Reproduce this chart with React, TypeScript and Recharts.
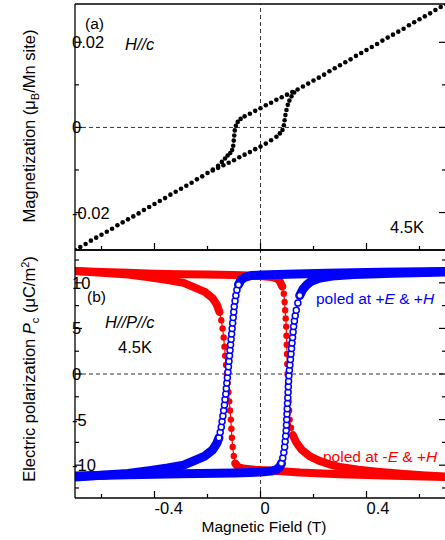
import { ComposedChart, Line, XAxis, YAxis, ReferenceLine } from "recharts";

// ---- axes ----
const fieldTicks = [-0.6, -0.4, -0.2, 0, 0.2, 0.4, 0.6];
const fieldMajor = [-0.4, 0, 0.4];
const magTicks = [-0.02, -0.01, 0, 0.01, 0.02];
const magMajor = [-0.02, 0, 0.02];
const polTicks = [-12.5, -10, -7.5, -5, -2.5, 0, 2.5, 5, 7.5, 10, 12.5];
const polMajor = [-10, -5, 0, 5, 10];

// ---- (a) magnetization, [H (T), M (muB/Mn)] ----
const magOuterLow = [
  [-0.7, -0.0288], [-0.68, -0.0281], [-0.66, -0.0274], [-0.64, -0.0266], [-0.62, -0.0259],
  [-0.6, -0.0252], [-0.58, -0.0245], [-0.56, -0.0238], [-0.54, -0.023], [-0.52, -0.0223],
  [-0.5, -0.0216], [-0.48, -0.0209], [-0.46, -0.0202], [-0.44, -0.0194], [-0.42, -0.0187],
  [-0.4, -0.018], [-0.38, -0.0173], [-0.36, -0.0166], [-0.34, -0.0158], [-0.32, -0.0151],
  [-0.3, -0.0144], [-0.28, -0.0137], [-0.26, -0.013], [-0.24, -0.0122], [-0.22, -0.0115],
  [-0.2, -0.0107],
];
const magOuterHigh = [
  [0.14, 0.0089], [0.16, 0.0096], [0.18, 0.0103], [0.2, 0.011], [0.22, 0.0117],
  [0.24, 0.0124], [0.26, 0.0132], [0.28, 0.0139], [0.3, 0.0146], [0.32, 0.0153],
  [0.34, 0.016], [0.36, 0.0168], [0.38, 0.0175], [0.4, 0.0182], [0.42, 0.0189],
  [0.44, 0.0196], [0.46, 0.0204], [0.48, 0.0211], [0.5, 0.0218], [0.52, 0.0225],
  [0.54, 0.0232], [0.56, 0.024], [0.58, 0.0247], [0.6, 0.0254], [0.62, 0.0261],
  [0.64, 0.0268], [0.66, 0.0276], [0.68, 0.0283], [0.7, 0.029],
];
const magLoopDown = [
  [0.12, 0.0083], [0.1, 0.0077], [0.08, 0.0071], [0.06, 0.0065], [0.04, 0.0058],
  [0.02, 0.0052], [0, 0.0045], [-0.02, 0.0039], [-0.04, 0.0032], [-0.06, 0.0026],
  [-0.075, 0.002], [-0.086, 0.0013], [-0.093, 0.0004], [-0.097, -0.0007], [-0.099, -0.0019],
  [-0.101, -0.0031], [-0.103, -0.0043], [-0.107, -0.0053], [-0.114, -0.006], [-0.124, -0.0066],
  [-0.134, -0.0073], [-0.146, -0.0081], [-0.16, -0.009], [-0.18, -0.0099],
];
const magLoopUp = [
  [-0.18, -0.0101], [-0.16, -0.0095], [-0.14, -0.0089], [-0.12, -0.0083], [-0.1, -0.0077],
  [-0.08, -0.007], [-0.06, -0.0064], [-0.04, -0.0058], [-0.02, -0.0051], [0, -0.0045],
  [0.02, -0.0038], [0.04, -0.003], [0.06, -0.0022], [0.073, -0.0014], [0.083, -0.0006],
  [0.088, 0.0005], [0.091, 0.0017], [0.094, 0.0029], [0.098, 0.0041], [0.103, 0.0053],
  [0.109, 0.0063], [0.117, 0.0073], [0.127, 0.0082],
];

// ---- (b) polarization, [H (T), Pc (uC/m2)] ----
const redSwitchPos = [
  [-0.7, 11.3], [-0.6, 11.2], [-0.5, 11.1], [-0.4, 11.0], [-0.3, 10.95], [-0.2, 10.9],
  [-0.1, 10.85], [0, 10.75], [0.04, 10.65], [0.06, 10.5], [0.072, 10.2], [0.082, 9.6],
  [0.088, 8.8], [0.091, 7.9], [0.093, 7.0], [0.095, 6.1], [0.097, 5.2], [0.098, 4.2],
  [0.099, 3.2], [0.1, 2.2], [0.101, 1.1], [0.102, 0], [0.104, -1.0], [0.105, -2.0],
  [0.106, -3.0], [0.108, -4.0], [0.11, -5.0], [0.115, -5.9], [0.122, -6.7], [0.135, -7.5],
  [0.155, -8.3], [0.185, -9.0], [0.22, -9.5], [0.26, -9.9], [0.3, -10.2], [0.37, -10.5],
  [0.45, -10.75], [0.53, -10.95], [0.61, -11.1], [0.7, -11.25],
];
const redSwitchNeg = [
  [-0.7, 11.3], [-0.6, 11.1], [-0.5, 10.9], [-0.42, 10.6], [-0.35, 10.3], [-0.29, 10.0],
  [-0.25, 9.5], [-0.21, 9.0], [-0.18, 8.3], [-0.165, 7.6], [-0.155, 6.8], [-0.148, 5.9],
  [-0.143, 5.0], [-0.139, 4.0], [-0.136, 3.0], [-0.133, 2.0], [-0.13, 1.0], [-0.127, 0],
  [-0.124, -1.0], [-0.121, -2.0], [-0.118, -3.0], [-0.115, -4.0], [-0.112, -5.0],
  [-0.11, -6.0], [-0.108, -7.0], [-0.105, -8.0], [-0.101, -9.0], [-0.095, -9.8],
  [-0.085, -10.2], [-0.06, -10.4], [-0.02, -10.5], [0.05, -10.6], [0.15, -10.8],
  [0.3, -11.0], [0.5, -11.15], [0.7, -11.3],
];
const blueSwitchNeg = [
  [-0.7, -11.3], [-0.6, -11.1], [-0.5, -10.9], [-0.42, -10.6], [-0.35, -10.3], [-0.29, -10.0],
  [-0.25, -9.5], [-0.21, -9.0], [-0.18, -8.3], [-0.165, -7.6], [-0.157, -7.0], [-0.152, -6.4],
  [-0.148, -5.8], [-0.145, -5.2], [-0.142, -4.6], [-0.139, -4.0], [-0.136, -3.4], [-0.134, -2.8],
  [-0.131, -2.2], [-0.129, -1.6], [-0.127, -1.0], [-0.125, -0.4], [-0.123, 0.2], [-0.121, 0.8],
  [-0.119, 1.4], [-0.117, 2.0], [-0.115, 2.6], [-0.113, 3.2], [-0.111, 3.8], [-0.109, 4.4],
  [-0.107, 5.0], [-0.105, 5.6], [-0.103, 6.2], [-0.101, 6.8], [-0.099, 7.4], [-0.096, 8.0],
  [-0.093, 8.6], [-0.089, 9.2], [-0.083, 9.8], [-0.074, 10.3], [-0.06, 10.6], [-0.035, 10.8],
  [0, 10.85], [0.1, 10.95], [0.25, 11.05], [0.45, 11.15], [0.7, 11.25],
];
const blueSwitchPos = [
  [-0.7, -11.2], [-0.5, -11.05], [-0.3, -10.95], [-0.1, -10.85], [0, -10.75], [0.04, -10.65],
  [0.06, -10.5], [0.072, -10.2], [0.079, -9.8], [0.084, -9.2], [0.088, -8.6], [0.091, -8.0],
  [0.093, -7.4], [0.095, -6.8], [0.097, -6.2], [0.098, -5.6], [0.099, -5.0], [0.1, -4.4],
  [0.101, -3.8], [0.102, -3.2], [0.103, -2.6], [0.104, -2.0], [0.105, -1.4], [0.106, -0.8],
  [0.107, -0.2], [0.109, 0.4], [0.111, 1.0], [0.113, 1.6], [0.115, 2.2], [0.117, 2.8],
  [0.119, 3.4], [0.121, 4.0], [0.123, 4.6], [0.125, 5.2], [0.128, 5.8], [0.131, 6.4],
  [0.135, 7.0], [0.141, 7.8], [0.148, 8.6], [0.16, 9.3], [0.175, 9.8], [0.19, 10.15],
  [0.22, 10.5], [0.27, 10.75], [0.35, 10.9], [0.5, 11.05], [0.7, 11.2],
];

const RED = "#ff0000";
const BLUE = "#0000ff";
const FONT = "'Liberation Sans', Arial, Helvetica, sans-serif";
const PLOT_W = 460;

const toPts = (arr: number[][], key: string) => arr.map(([h, v]) => ({ h, [key]: v }));

// where the sweep is slow the markers pile up into a solid band; on the steep
// switching part they separate, so split each branch into band runs + marker points
const STEEP = 100;
function splitBranch(arr: number[][]) {
  const data = toPts(arr, "p");
  const steep = data.slice(1).map((d: any, i) => {
    const prev: any = data[i];
    return Math.abs((d.p - prev.p) / (d.h - prev.h)) > STEEP;
  });
  const bands: any[][] = [];
  let cur: any[] = [];
  steep.forEach((s, i) => {
    if (!s) {
      if (!cur.length) cur.push(data[i]);
      cur.push(data[i + 1]);
    } else if (cur.length) {
      bands.push(cur);
      cur = [];
    }
  });
  if (cur.length) bands.push(cur);
  const marks = data.filter((_, i) => steep[i - 1] || steep[i]);
  return { data, bands, marks };
}

type Side = "bottom" | "top" | "left" | "right";
function axisTick(side: Side, majors: number[], labels: boolean) {
  return function Tick(props: any) {
    const { x, y, payload } = props;
    const v = payload.value as number;
    const major = majors.includes(v);
    const len = major ? 7 : 4;
    let x2 = x;
    let y2 = y;
    if (side === "bottom") y2 = y - len;
    if (side === "top") y2 = y + len;
    if (side === "left") x2 = x + len;
    if (side === "right") x2 = x - len;
    return (
      <g>
        <line x1={x} y1={y} x2={x2} y2={y2} stroke="#000" strokeWidth={1.2} />
        {labels && major && side === "bottom" && (
          <text x={x} y={y + 16} fontSize={16.5} fontFamily={FONT} fill="#000" textAnchor="start">
            {String(v)}
          </text>
        )}
        {labels && major && side === "left" && (
          <text x={x - 3} y={y + 6} fontSize={16.5} fontFamily={FONT} fill="#000" textAnchor="start">
            {String(v)}
          </text>
        )}
      </g>
    );
  };
}

// axes are 1px thick boxes (a 0 size axis is not drawn); margins make up the rest
function Frame({ yTicks, yMajor, yDomain, xLabels }: any) {
  return [
    <XAxis
      key="xb"
      xAxisId={0}
      dataKey="h"
      type="number"
      domain={[-0.7, 0.7]}
      ticks={fieldTicks}
      interval={0}
      height={1}
      tickSize={0}
      tickMargin={0}
      tickLine={false}
      axisLine={{ stroke: "#000", strokeWidth: 1.3 }}
      tick={axisTick("bottom", fieldMajor, xLabels)}
      allowDataOverflow
    />,
    <XAxis
      key="xt"
      xAxisId="t"
      orientation="top"
      type="number"
      domain={[-0.7, 0.7]}
      ticks={fieldTicks}
      interval={0}
      height={1}
      tickSize={0}
      tickMargin={0}
      tickLine={false}
      axisLine={{ stroke: "#000", strokeWidth: 1.3 }}
      tick={axisTick("top", fieldMajor, false)}
      allowDataOverflow
    />,
    <YAxis
      key="yl"
      yAxisId={0}
      type="number"
      domain={yDomain}
      ticks={yTicks}
      interval={0}
      width={1}
      tickSize={0}
      tickMargin={0}
      tickLine={false}
      axisLine={{ stroke: "#000", strokeWidth: 1.3 }}
      tick={axisTick("left", yMajor, true)}
      allowDataOverflow
    />,
    <YAxis
      key="yr"
      yAxisId="r"
      orientation="right"
      type="number"
      domain={yDomain}
      ticks={yTicks}
      interval={0}
      width={1}
      tickSize={0}
      tickMargin={0}
      tickLine={false}
      axisLine={{ stroke: "#000", strokeWidth: 1.3 }}
      tick={axisTick("right", yMajor, false)}
      allowDataOverflow
    />,
    <ReferenceLine key="rx" x={0} stroke="#333" strokeDasharray="4 3" strokeWidth={1} />,
    <ReferenceLine key="ry" y={0} stroke="#333" strokeDasharray="4 3" strokeWidth={1} />,
  ];
}

function Branch({ arr, color, open, id }: any) {
  const { data, bands, marks } = splitBranch(arr);
  const dot = open
    ? { r: 3, fill: "#fff", stroke: color, strokeWidth: 1.5 }
    : { r: 3.2, fill: color, stroke: "none" };
  return [
    <Line key={id + "-l"} data={data} dataKey="p" type="linear" stroke={color} strokeWidth={1.2}
      dot={false} activeDot={false} isAnimationActive={false} />,
    ...bands.map((b, i) => (
      <Line key={id + "-b" + i} data={b} dataKey="p" type="linear" stroke={color}
        strokeWidth={open ? 9 : 8} strokeLinecap="round" strokeLinejoin="round"
        dot={false} activeDot={false} isAnimationActive={false} />
    )),
    <Line key={id + "-m"} data={marks} dataKey="p" type="linear" stroke="none"
      dot={dot} activeDot={false} isAnimationActive={false} />,
  ];
}

function MagPanel() {
  const sets = [magOuterLow, magLoopUp, magLoopDown, magOuterHigh];
  return (
    <ComposedChart width={PLOT_W} height={260} margin={{ top: 3, right: 13, bottom: 9, left: 74 }}>
      {Frame({ yTicks: magTicks, yMajor: magMajor, yDomain: [-0.0288, 0.029], xLabels: false })}
      {sets.map((s, i) => (
        <Line key={i} data={toPts(s, "m")} dataKey="m" type="linear" stroke="none"
          dot={{ r: 2.3, fill: "#000", stroke: "none" }} activeDot={false} isAnimationActive={false} />
      ))}
    </ComposedChart>
  );
}

function PolPanel() {
  return (
    <ComposedChart width={PLOT_W} height={300} margin={{ top: 9, right: 13, bottom: 41, left: 74 }}>
      {Frame({ yTicks: polTicks, yMajor: polMajor, yDomain: [-13.6, 13.6], xLabels: true })}
      {Branch({ arr: redSwitchNeg, color: RED, open: false, id: "rn" })}
      {Branch({ arr: redSwitchPos, color: RED, open: false, id: "rp" })}
      {Branch({ arr: blueSwitchNeg, color: BLUE, open: true, id: "bn" })}
      {Branch({ arr: blueSwitchPos, color: BLUE, open: true, id: "bp" })}
    </ComposedChart>
  );
}

export default function App() {
  const t = { fontFamily: FONT, fill: "#000" };
  return (
    <div style={{ position: "absolute", left: 0, top: 0, width: 445, height: 540, overflow: "hidden", background: "#fff" }}>
      <div style={{ position: "absolute", left: 0, top: 0 }}>
        <MagPanel />
      </div>
      <div style={{ position: "absolute", left: 0, top: 240 }}>
        <PolPanel />
      </div>
      <svg width={445} height={540} style={{ position: "absolute", left: 0, top: 0, pointerEvents: "none" }}>
        <text {...t} fontSize={16.5} textAnchor="middle" transform="translate(35,126) rotate(-90)">
          Magnetization (μ<tspan fontSize={11} dy={4}>B</tspan>
          <tspan dy={-4}>/Mn site)</tspan>
        </text>
        <text {...t} fontSize={16.5} textAnchor="middle" transform="translate(35,369) rotate(-90)">
          Electric polarization <tspan fontStyle="italic">P</tspan>
          <tspan fontSize={11} dy={4}>c</tspan>
          <tspan dy={-4}> (μC/m</tspan>
          <tspan fontSize={11} dy={-6}>2</tspan>
          <tspan dy={6}>)</tspan>
        </text>
        <text {...t} fontSize={15.5} textAnchor="middle" x={264} y={532}>Magnetic Field (T)</text>

        <text {...t} fontSize={15.5} x={85} y={29}>(a)</text>
        <text {...t} fontSize={16.5} fontStyle="italic" x={125} y={50}>H//c</text>
        <text {...t} fontSize={16.5} x={390} y={233}>4.5K</text>

        <text {...t} fontSize={15.5} x={87} y={302}>(b)</text>
        <text {...t} fontSize={16.5} fontStyle="italic" x={105} y={328}>H//P//c</text>
        <text {...t} fontSize={16.5} x={118} y={353}>4.5K</text>

        <text fontFamily={FONT} fill={BLUE} fontSize={15.5} x={316} y={304}>
          poled at +<tspan fontStyle="italic">E</tspan> &amp; +<tspan fontStyle="italic">H</tspan>
        </text>
        <text fontFamily={FONT} fill={RED} fontSize={15.5} x={323} y={462}>
          poled at -<tspan fontStyle="italic">E</tspan> &amp; +<tspan fontStyle="italic">H</tspan>
        </text>
      </svg>
    </div>
  );
}
